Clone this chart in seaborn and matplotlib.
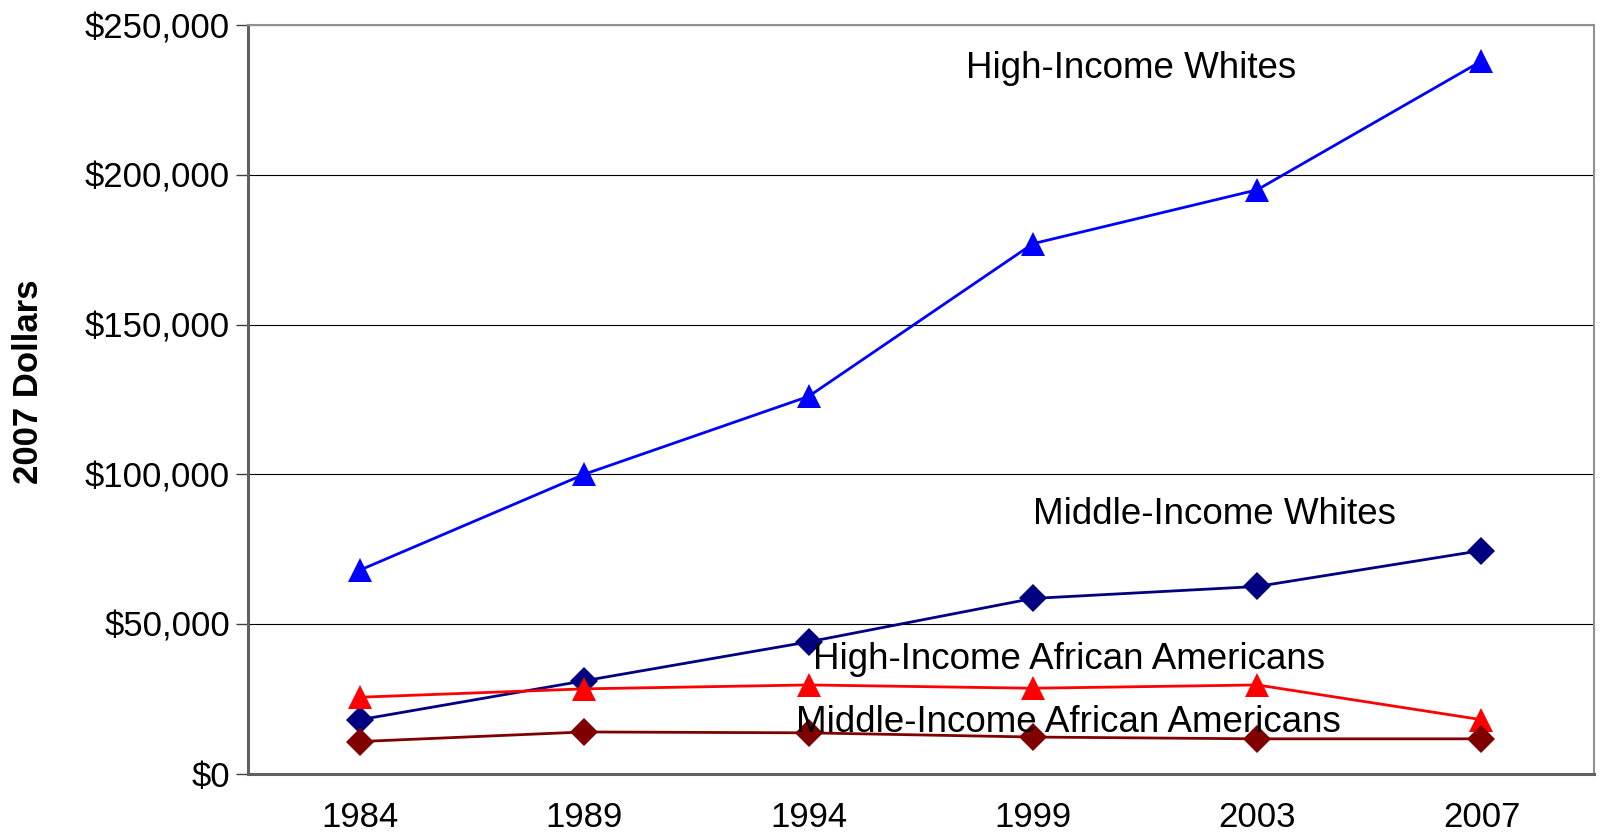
import pandas as pd
import matplotlib
matplotlib.use("Agg")
import matplotlib.pyplot as plt
import seaborn as sns
from matplotlib.ticker import FuncFormatter, FixedLocator

years = ["1984", "1989", "1994", "1999", "2003", "2007"]
high_income_whites = [68000, 100000, 126000, 177000, 195000, 238000]
middle_income_whites = [18000, 31000, 44000, 58500, 62500, 74500]
high_income_african_americans = [25500, 28300, 29600, 28500, 29600, 18000]
middle_income_african_americans = [10700, 13900, 13600, 12200, 11600, 11600]

series_names = [
    "High-Income Whites",
    "Middle-Income Whites",
    "High-Income African Americans",
    "Middle-Income African Americans",
]
series_values = [
    high_income_whites,
    middle_income_whites,
    high_income_african_americans,
    middle_income_african_americans,
]

rows = []
for name, vals in zip(series_names, series_values):
    for yr, v in zip(years, vals):
        rows.append({"year": yr, "wealth": v, "group": name})
df = pd.DataFrame(rows)

sns.set_style("white")
plt.rcParams["font.family"] = ["Liberation Sans", "DejaVu Sans"]
plt.rcParams["text.color"] = "black"
plt.rcParams["xtick.color"] = "black"
plt.rcParams["ytick.color"] = "black"

palette = {
    "High-Income Whites": "#0000FF",
    "Middle-Income Whites": "#000080",
    "High-Income African Americans": "#FF0000",
    "Middle-Income African Americans": "#800000",
}
markers = {
    "High-Income Whites": "^",
    "Middle-Income Whites": "D",
    "High-Income African Americans": "^",
    "Middle-Income African Americans": "D",
}

fig = plt.figure(figsize=(16, 8.39), dpi=100)
ax = fig.add_axes([0.155, 0.078, 0.841, 0.892])

sns.lineplot(
    data=df, x="year", y="wealth", hue="group", style="group",
    palette=palette, markers=markers, dashes=False,
    linewidth=2, markersize=12, markeredgewidth=0,
    legend=False, ax=ax,
)

# triangles need a bigger size to look like the diamonds
for line in ax.lines:
    if line.get_marker() == "^":
        line.set_markersize(17)
    elif line.get_marker() == "D":
        line.set_markersize(14)

ax.set_xlim(-0.5, len(years) - 0.5)
ax.set_ylim(0, 250000)
ax.set_yticks(range(0, 250001, 50000))
ax.yaxis.set_major_formatter(FuncFormatter(lambda v, p: f"${v:,.0f}"))
ax.grid(axis="y", color="#000000", linewidth=0.8)
ax.set_axisbelow(True)

# labels at category centres, tick marks between categories
ax.set_xticks(range(len(years)))
ax.set_xticklabels(years)
ax.xaxis.set_minor_locator(FixedLocator([i - 0.5 for i in range(len(years) + 1)]))
ax.tick_params(axis="x", which="major", length=0, pad=20, labelsize=25, labelcolor="black")
ax.tick_params(axis="x", which="minor", length=10, width=1, color="#404040", direction="out")
ax.tick_params(axis="y", which="major", length=9, width=1, color="#404040", direction="out",
               labelsize=25, pad=4, labelcolor="black")
ax.tick_params(bottom=True, left=True)
ax.tick_params(axis="x", which="major", bottom=False)

for side in ["left", "bottom"]:
    ax.spines[side].set_color("#606060")
    ax.spines[side].set_linewidth(2.2)
for side in ["top", "right"]:
    ax.spines[side].set_color("#909090")
    ax.spines[side].set_linewidth(1.5)

ax.set_xlabel("")
ax.set_ylabel("")

ax.text(3.44, 235500, "High-Income Whites", fontsize=26.5, ha="center", va="center")
ax.text(3.81, 86500, "Middle-Income Whites", fontsize=26.5, ha="center", va="center")
ax.text(3.16, 38200, "High-Income African Americans", fontsize=26.5, ha="center", va="center")
ax.text(3.16, 17100, "Middle-Income African Americans", fontsize=26.5, ha="center", va="center")

fig.text(0.018, 0.545, "2007 Dollars", rotation=90, fontsize=25, fontweight="bold",
         ha="center", va="center")

fig.savefig("out.png", dpi=100)
